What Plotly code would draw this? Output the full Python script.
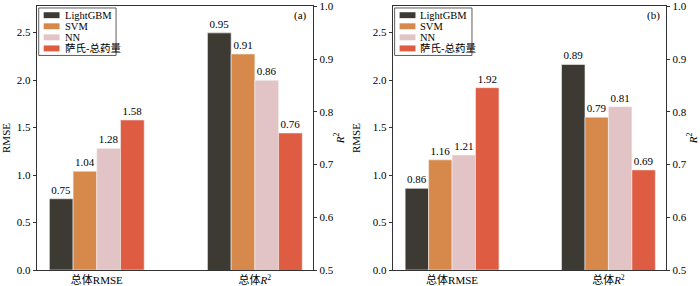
import plotly.graph_objects as go

series = ["LightGBM", "SVM", "NN", "萨氏-总药量"]
colors = ["#3d3a34", "#d6894b", "#e2c4c7", "#dd5c42"]
categories = ["总体RMSE", "总体<i>R</i><sup>2</sup>"]
rmse_a = [0.75, 1.04, 1.28, 1.58]
r2_a = [0.95, 0.91, 0.86, 0.76]
rmse_b = [0.86, 1.16, 1.21, 1.92]
r2_b = [0.89, 0.79, 0.81, 0.69]
panel_labels = ["(a)", "(b)"]

FONT = "Liberation Serif, Times New Roman, Noto Sans CJK SC, serif"
W, H = 700, 286
MT, MB = 3, 16
PH = H - MT - MB
BW = 0.15

fig = go.Figure()

panels = [
    dict(rmse=rmse_a, r2=r2_a, xa="x", ya="y", ya2="y2", x0=31, x1=310),
    dict(rmse=rmse_b, r2=r2_b, xa="x2", ya="y3", ya2="y4", x0=390, x1=666),
]

for p in panels:
    for i, name in enumerate(series):
        off = (i - 1.5) * BW
        common = dict(
            width=BW, marker=dict(color=colors[i], line=dict(color="#f4f0ee", width=0.6)),
            textposition="outside", texttemplate="%{y:.2f}", cliponaxis=False,
            textfont=dict(family=FONT, size=11, color="black"), showlegend=False,
            name=name, hoverinfo="y+name",
        )
        fig.add_trace(go.Bar(x=[0 + off], y=[p["rmse"][i]], xaxis=p["xa"], yaxis=p["ya"], **common))
        fig.add_trace(go.Bar(x=[1 + off], y=[p["r2"][i]], xaxis=p["xa"], yaxis=p["ya2"], **common))

axis_line = dict(showline=True, linecolor="#333333", linewidth=1, ticks="outside",
                 ticklen=3, tickcolor="#333333", showgrid=False, zeroline=False,
                 ticklabeloverflow="allow",
                 tickfont=dict(family=FONT, size=11, color="black"))

layout = dict(
    width=W, height=H, margin=dict(l=0, r=0, t=MT, b=MB),
    paper_bgcolor="white", plot_bgcolor="white", barmode="overlay",
    font=dict(family=FONT, size=11, color="black"),
    showlegend=False,
)

for k, p in enumerate(panels):
    xname = "xaxis" if k == 0 else "xaxis2"
    yname = "yaxis" if k == 0 else "yaxis3"
    y2name = "yaxis2" if k == 0 else "yaxis4"
    layout[xname] = dict(
        domain=[p["x0"] / W, p["x1"] / W], range=[-0.38, 1.37],
        tickvals=[0, 1], ticktext=categories, anchor=p["ya"],
        mirror=True, **{**axis_line, "ticks": ""},
    )
    layout[yname] = dict(
        range=[0, 2.78], tickvals=[0, 0.5, 1.0, 1.5, 2.0, 2.5], tickformat=".1f",
        anchor=p["xa"], title=dict(text="RMSE", standoff=9,
                                   font=dict(family=FONT, size=11)),
        **axis_line,
    )
    layout[y2name] = dict(
        range=[0.5, 1.001], tickvals=[0.5, 0.6, 0.7, 0.8, 0.9, 1.0], tickformat=".1f",
        overlaying=p["ya"], side="right", anchor=p["xa"],
        title=dict(text="<i>R</i><sup>2</sup>", standoff=3, font=dict(family=FONT, size=11)),
        **axis_line,
    )

fig.update_layout(**layout)

shapes = []
annotations = []
for k, p in enumerate(panels):
    pw = p["x1"] - p["x0"]
    xref = ("x" if k == 0 else "x2") + " domain"
    yref = ("y" if k == 0 else "y3") + " domain"

    def dx(px):
        return px / pw

    def dy(py):
        return 1 - py / PH

    shapes.append(dict(type="rect", xref=xref, yref=yref, x0=dx(2), x1=dx(80),
                       y0=dy(50), y1=dy(2), line=dict(color="#333333", width=0.8),
                       fillcolor="white", layer="above"))
    for i, name in enumerate(series):
        cy = 9.3 + i * 11.2
        shapes.append(dict(type="rect", xref=xref, yref=yref, x0=dx(7), x1=dx(23),
                           y0=dy(cy + 3), y1=dy(cy - 3), line=dict(width=0),
                           fillcolor=colors[i], layer="above"))
        annotations.append(dict(xref=xref, yref=yref, x=dx(26), y=dy(cy), text=name,
                                showarrow=False, xanchor="left", yanchor="middle",
                                font=dict(family=FONT, size=10.5, color="black")))
    annotations.append(dict(xref=xref, yref=yref, x=dx(pw - 4), y=dy(10),
                            text=panel_labels[k], showarrow=False, xanchor="right",
                            yanchor="middle", font=dict(family=FONT, size=11, color="black")))

fig.update_layout(shapes=shapes, annotations=annotations)
fig.write_html("out.html", config={"displayModeBar": False},
               post_script="document.body.style.margin='0px';")
